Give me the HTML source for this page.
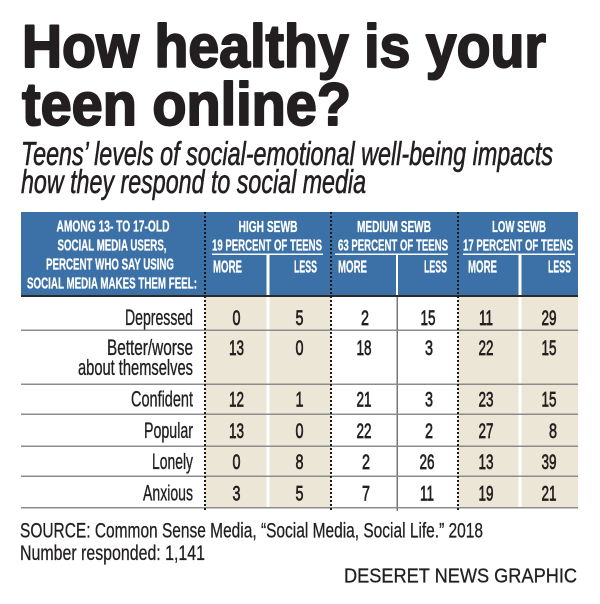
<!DOCTYPE html>
<html>
<head>
<meta charset="utf-8">
<style>
  html,body{margin:0;padding:0;background:#fff;}
  svg{display:block;}
  text{font-family:"Liberation Sans",Arial,sans-serif;}
</style>
</head>
<body>
<svg width="600" height="604" viewBox="0 0 600 604" xmlns="http://www.w3.org/2000/svg">
  <rect width="600" height="604" fill="#ffffff"/>

  <!-- Title -->
  <g fill="#231f20" stroke="#231f20" stroke-width="2" stroke-linejoin="round" font-weight="bold" font-size="60">
    <text x="22" y="67" textLength="524" lengthAdjust="spacingAndGlyphs">How healthy is your</text>
    <text x="22" y="125" textLength="329" lengthAdjust="spacingAndGlyphs">teen online?</text>
  </g>

  <!-- Subtitle -->
  <g fill="#231f20" stroke="#231f20" stroke-width="0.6" font-style="italic" font-size="33">
    <text x="21" y="165" textLength="532" lengthAdjust="spacingAndGlyphs">Teens’ levels of social-emotional well-being impacts</text>
    <text x="21" y="193" textLength="345" lengthAdjust="spacingAndGlyphs">how they respond to social media</text>
  </g>

  <!-- Header block -->
  <rect x="21" y="212" width="557" height="84" fill="#3b71a7"/>

  <!-- Data backgrounds -->
  <rect x="205" y="297" width="126" height="211" fill="#ece6d6"/>
  <rect x="458" y="297" width="120" height="211" fill="#ece6d6"/>

  <!-- white separators in beige columns and header -->
  <rect x="266.5" y="255" width="3" height="253" fill="#ffffff"/>
  <rect x="518.5" y="255" width="3" height="253" fill="#ffffff"/>
  <rect x="396" y="255" width="2" height="41" fill="#ffffff"/>
  <rect x="396.5" y="297" width="1.5" height="214" fill="#777777"/>

  <!-- header rules -->
  <rect x="212" y="253.5" width="111" height="1.5" fill="#ffffff"/>
  <rect x="335" y="253.5" width="113" height="1.5" fill="#ffffff"/>
  <rect x="463" y="253.5" width="112" height="1.5" fill="#ffffff"/>

  <!-- header bottom line -->
  <rect x="21" y="295" width="557" height="2" fill="#2a2a2a"/>

  <!-- row separators -->
  <g fill="#8c8c8c">
    <rect x="21" y="329.5" width="557" height="1.5"/>
    <rect x="21" y="383.5" width="557" height="1.5"/>
    <rect x="21" y="413.5" width="557" height="1.5"/>
    <rect x="21" y="445.5" width="557" height="1.5"/>
    <rect x="21" y="475.5" width="557" height="1.5"/>
    <rect x="21" y="507" width="557" height="1.5"/>
  </g>

  <!-- dotted separators -->
  <g stroke="#1a1a1a" stroke-width="2" stroke-dasharray="2,2">
    <line x1="205" y1="212" x2="205" y2="511"/>
    <line x1="331" y1="212" x2="331" y2="511"/>
    <line x1="458" y1="212" x2="458" y2="511"/>
  </g>

  <!-- Header text -->
  <g fill="#ffffff" stroke="#ffffff" stroke-width="0.3" font-weight="bold" font-size="15.5" text-anchor="middle">
    <text x="113" y="231.5" textLength="113" lengthAdjust="spacingAndGlyphs">AMONG 13- TO 17-OLD</text>
    <text x="112" y="250.5" textLength="109" lengthAdjust="spacingAndGlyphs">SOCIAL MEDIA USERS,</text>
    <text x="110" y="269.5" textLength="128" lengthAdjust="spacingAndGlyphs">PERCENT WHO SAY USING</text>
    <text x="112" y="288.5" textLength="170" lengthAdjust="spacingAndGlyphs">SOCIAL MEDIA MAKES THEM FEEL:</text>

    <text x="268" y="232" textLength="59" lengthAdjust="spacingAndGlyphs">HIGH SEWB</text>
    <text x="267" y="250.5" textLength="110" lengthAdjust="spacingAndGlyphs">19 PERCENT OF TEENS</text>
    <text x="394" y="232" textLength="74" lengthAdjust="spacingAndGlyphs">MEDIUM SEWB</text>
    <text x="393" y="250.5" textLength="110" lengthAdjust="spacingAndGlyphs">63 PERCENT OF TEENS</text>
    <text x="519" y="232" textLength="54" lengthAdjust="spacingAndGlyphs">LOW SEWB</text>
    <text x="518" y="250.5" textLength="110" lengthAdjust="spacingAndGlyphs">17 PERCENT OF TEENS</text>
  </g>
  <g fill="#ffffff" stroke="#ffffff" stroke-width="0.3" font-weight="bold" font-size="17.5">
    <text x="213" y="272.7" textLength="29" lengthAdjust="spacingAndGlyphs">MORE</text>
    <text x="294" y="272.7" textLength="23" lengthAdjust="spacingAndGlyphs">LESS</text>
    <text x="338" y="272.7" textLength="29" lengthAdjust="spacingAndGlyphs">MORE</text>
    <text x="424" y="272.7" textLength="23" lengthAdjust="spacingAndGlyphs">LESS</text>
    <text x="468" y="272.7" textLength="29" lengthAdjust="spacingAndGlyphs">MORE</text>
    <text x="548" y="272.7" textLength="23" lengthAdjust="spacingAndGlyphs">LESS</text>
  </g>

  <!-- Row labels -->
  <g fill="#231f20" stroke="#231f20" stroke-width="0.35" font-size="22" text-anchor="end">
    <text x="193" y="325" textLength="68" lengthAdjust="spacingAndGlyphs">Depressed</text>
    <text x="193" y="355" textLength="86" lengthAdjust="spacingAndGlyphs">Better/worse</text>
    <text x="193" y="375" textLength="115" lengthAdjust="spacingAndGlyphs">about themselves</text>
    <text x="193" y="406.7" textLength="62" lengthAdjust="spacingAndGlyphs">Confident</text>
    <text x="193" y="438" textLength="49" lengthAdjust="spacingAndGlyphs">Popular</text>
    <text x="193" y="469" textLength="41" lengthAdjust="spacingAndGlyphs">Lonely</text>
    <text x="193" y="500.7" textLength="50" lengthAdjust="spacingAndGlyphs">Anxious</text>
  </g>

  <!-- Numbers -->
  <g fill="#231f20" stroke="#231f20" stroke-width="0.7" font-size="21" text-anchor="middle">
    <!-- Depressed -->
    <text x="236.5" y="325" textLength="8" lengthAdjust="spacingAndGlyphs">0</text>
    <text x="299.5" y="325" textLength="8" lengthAdjust="spacingAndGlyphs">5</text>
    <text x="365" y="325" textLength="8" lengthAdjust="spacingAndGlyphs">2</text>
    <text x="428" y="325" textLength="15" lengthAdjust="spacingAndGlyphs">15</text>
    <text x="486" y="325" textLength="14" lengthAdjust="spacingAndGlyphs">11</text>
    <text x="549" y="325" textLength="15" lengthAdjust="spacingAndGlyphs">29</text>
    <!-- Better/worse -->
    <text x="236.5" y="355" textLength="15" lengthAdjust="spacingAndGlyphs">13</text>
    <text x="299.5" y="355" textLength="8" lengthAdjust="spacingAndGlyphs">0</text>
    <text x="364" y="355" textLength="15" lengthAdjust="spacingAndGlyphs">18</text>
    <text x="429" y="355" textLength="8" lengthAdjust="spacingAndGlyphs">3</text>
    <text x="486" y="355" textLength="15" lengthAdjust="spacingAndGlyphs">22</text>
    <text x="549" y="355" textLength="15" lengthAdjust="spacingAndGlyphs">15</text>
    <!-- Confident -->
    <text x="236.5" y="406.7" textLength="15" lengthAdjust="spacingAndGlyphs">12</text>
    <text x="299.5" y="406.7" textLength="8" lengthAdjust="spacingAndGlyphs">1</text>
    <text x="364" y="406.7" textLength="15" lengthAdjust="spacingAndGlyphs">21</text>
    <text x="429" y="406.7" textLength="8" lengthAdjust="spacingAndGlyphs">3</text>
    <text x="486" y="406.7" textLength="15" lengthAdjust="spacingAndGlyphs">23</text>
    <text x="549" y="406.7" textLength="15" lengthAdjust="spacingAndGlyphs">15</text>
    <!-- Popular -->
    <text x="236.5" y="438" textLength="15" lengthAdjust="spacingAndGlyphs">13</text>
    <text x="299.5" y="438" textLength="8" lengthAdjust="spacingAndGlyphs">0</text>
    <text x="364" y="438" textLength="15" lengthAdjust="spacingAndGlyphs">22</text>
    <text x="429" y="438" textLength="8" lengthAdjust="spacingAndGlyphs">2</text>
    <text x="486" y="438" textLength="15" lengthAdjust="spacingAndGlyphs">27</text>
    <text x="553" y="438" textLength="8" lengthAdjust="spacingAndGlyphs">8</text>
    <!-- Lonely -->
    <text x="236.5" y="469" textLength="8" lengthAdjust="spacingAndGlyphs">0</text>
    <text x="299.5" y="469" textLength="8" lengthAdjust="spacingAndGlyphs">8</text>
    <text x="366" y="469" textLength="8" lengthAdjust="spacingAndGlyphs">2</text>
    <text x="427" y="469" textLength="15" lengthAdjust="spacingAndGlyphs">26</text>
    <text x="486" y="469" textLength="15" lengthAdjust="spacingAndGlyphs">13</text>
    <text x="549" y="469" textLength="15" lengthAdjust="spacingAndGlyphs">39</text>
    <!-- Anxious -->
    <text x="236.5" y="500.7" textLength="8" lengthAdjust="spacingAndGlyphs">3</text>
    <text x="299.5" y="500.7" textLength="8" lengthAdjust="spacingAndGlyphs">5</text>
    <text x="366" y="500.7" textLength="8" lengthAdjust="spacingAndGlyphs">7</text>
    <text x="427" y="500.7" textLength="14" lengthAdjust="spacingAndGlyphs">11</text>
    <text x="486" y="500.7" textLength="15" lengthAdjust="spacingAndGlyphs">19</text>
    <text x="549" y="500.7" textLength="15" lengthAdjust="spacingAndGlyphs">21</text>
  </g>

  <!-- Footer -->
  <g fill="#231f20" stroke="#231f20" stroke-width="0.3">
    <text x="20" y="537.3" font-size="21.5" textLength="463" lengthAdjust="spacingAndGlyphs">SOURCE: Common Sense Media, “Social Media, Social Life.” 2018</text>
    <text x="20" y="560" font-size="21.5" textLength="185" lengthAdjust="spacingAndGlyphs">Number responded: 1,141</text>
    <text x="344" y="582.7" font-size="20" textLength="233" lengthAdjust="spacingAndGlyphs">DESERET NEWS GRAPHIC</text>
  </g>
</svg>
</body>
</html>
